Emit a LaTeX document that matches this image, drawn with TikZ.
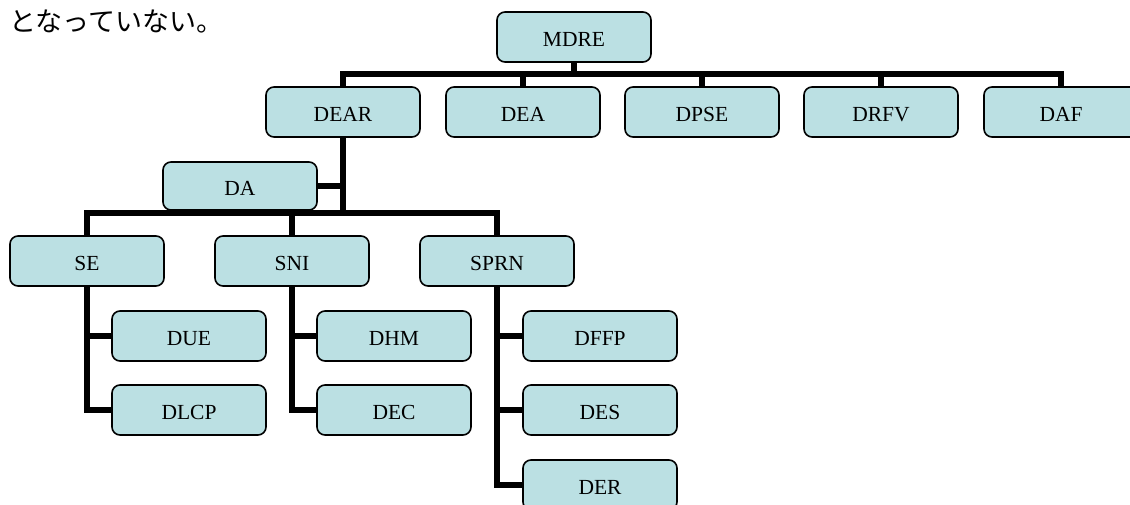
\documentclass[tikz,border=0pt]{standalone}
\usepackage{fontspec}
\setmainfont{Liberation Serif}
\newfontfamily\jpfont{Noto Sans CJK JP}
\definecolor{boxfill}{HTML}{BBE0E3}
\begin{document}
\begin{tikzpicture}[x=1pt,y=-1pt,
  orgbox/.style={draw=black, line width=1.6pt, fill=boxfill, rounded corners=8pt,
    minimum width=154pt, minimum height=50pt, inner sep=0pt,
    font=\fontsize{21.5}{21.5}\selectfont, text height=19.4pt, text depth=0pt},
  link/.style={line width=5.5pt, black}]
\useasboundingbox (0,0) rectangle (1130,505);
\clip (0,0) rectangle (1130,505);

% caption line above the chart
\node[anchor=west, inner sep=0pt, font=\jpfont\fontsize{27}{27}\selectfont] (cap) at (9,21) {となっていない。};

% boxes
\node[orgbox] (MDRE) at (574,37) {MDRE};
\node[orgbox] (DEAR) at (343,112) {DEAR};
\node[orgbox] (DEA)  at (523,112) {DEA};
\node[orgbox] (DPSE) at (702,112) {DPSE};
\node[orgbox] (DRFV) at (881,112) {DRFV};
\node[orgbox] (DAF)  at (1061,112) {DAF};
\node[orgbox, minimum height=48pt] (DA) at (240,186) {DA};
\node[orgbox] (SE)   at (87,261) {SE};
\node[orgbox] (SNI)  at (292,261) {SNI};
\node[orgbox] (SPRN) at (497,261) {SPRN};
\node[orgbox] (DUE)  at (189,336) {DUE};
\node[orgbox] (DLCP) at (189,410) {DLCP};
\node[orgbox] (DHM)  at (394,336) {DHM};
\node[orgbox] (DEC)  at (394,410) {DEC};
\node[orgbox] (DFFP) at (600,336) {DFFP};
\node[orgbox] (DES)  at (600,410) {DES};
\node[orgbox] (DER)  at (600,485) {DER};

% bus lines
\coordinate (busA) at (0,74);
\coordinate (busB) at (0,213);

% first level
\draw[link] (DEAR.north) -- (DEAR.north |- busA) -- (DAF.north |- busA) -- (DAF.north);
\draw[link] (MDRE.south) -- (MDRE.south |- busA);
\draw[link] (DEA.north) -- (DEA.north |- busA);
\draw[link] (DPSE.north) -- (DPSE.north |- busA);
\draw[link] (DRFV.north) -- (DRFV.north |- busA);

% second level
\draw[link] (SE.north) -- (SE.north |- busB) -- (SPRN.north |- busB) -- (SPRN.north);
\draw[link] (DEAR.south) -- (DEAR.south |- busB);
\draw[link] (SNI.north) -- (SNI.north |- busB);
\draw[link] (DA.east) -- (DA.east -| DEAR.south);

% third level
\draw[link] (SE.south) -- (SE.south |- DLCP.west) -- (DLCP.west);
\draw[link] (DUE.west) -- (DUE.west -| SE.south);
\draw[link] (SNI.south) -- (SNI.south |- DEC.west) -- (DEC.west);
\draw[link] (DHM.west) -- (DHM.west -| SNI.south);
\draw[link] (SPRN.south) -- (SPRN.south |- DER.west) -- (DER.west);
\draw[link] (DFFP.west) -- (DFFP.west -| SPRN.south);
\draw[link] (DES.west) -- (DES.west -| SPRN.south);
\end{tikzpicture}
\end{document}
